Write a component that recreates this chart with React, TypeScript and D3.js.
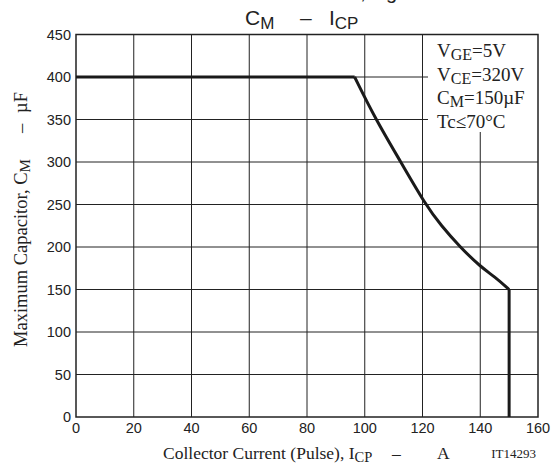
import React from 'react';
import * as d3 from 'd3';

// curve: collector current (A) vs max capacitance (uF)
const currentA = [0, 96.5, 103.8, 112.5, 121, 126.5, 133, 140, 145, 150, 150];
const capUF = [400, 400, 350, 300, 250, 225, 200, 177, 165, 150, 0];

const xTicks = [0, 20, 40, 60, 80, 100, 120, 140, 160];
const yTicks = [0, 50, 100, 150, 200, 250, 300, 350, 400, 450];

const conditions = [
    {main: 'V', sub: 'GE', rest: '=5V'},
    {main: 'V', sub: 'CE', rest: '=320V'},
    {main: 'C', sub: 'M', rest: '=150µF'},
    {main: 'Tc≤70°C', sub: '', rest: ''},
];

const sans = '"Liberation Sans", Arial, sans-serif';
const serif = '"Liberation Serif", "Times New Roman", serif';

const App = () => {
    const width = 552;
    const height = 470;
    const margin = {top: 34.5, right: 14, bottom: 53, left: 76};
    const x0 = margin.left;
    const x1 = width - margin.right;
    const y0 = height - margin.bottom;
    const y1 = margin.top;

    const xScale = d3.scaleLinear().domain([0, 160]).range([x0, x1]);
    const yScale = d3.scaleLinear().domain([0, 450]).range([y0, y1]);

    const points: [number, number][] = currentA.map((c, i) => [c, capUF[i]]);
    const last = points.length - 1;
    const flat = points.slice(0, 2);
    const curve = points.slice(1, last);
    const drop = points.slice(last - 1);

    const straight = d3.line<[number, number]>()
        .x(d => xScale(d[0]))
        .y(d => yScale(d[1]));
    const smooth = d3.line<[number, number]>()
        .x(d => xScale(d[0]))
        .y(d => yScale(d[1]))
        .curve(d3.curveBasis);

    // legend box blanks out the grid behind the conditions text
    const boxLeft = 428;
    const boxBottom = 132;

    return (
        <svg width={width} height={height} style={{display: 'block', position: 'absolute', left: 0, top: 0}}>
            <rect width={width} height={height} fill="#fff"/>

            {/* cropped header text */}
            <text x={397} y={-1} textAnchor="end" fontFamily={sans} fontSize={20} fill="#222">Tc=25°C, Rg</text>

            {/* title */}
            <g fontFamily={sans} fontSize={21} fill="#222">
                <text x={245} y={25}>C<tspan fontSize={17} dy={4}>M</tspan></text>
                <text x={300} y={25}>–</text>
                <text x={329} y={25}>I<tspan fontSize={17} dy={4}>CP</tspan></text>
            </g>

            {/* grid */}
            <g stroke="#222" strokeWidth={1}>
                {xTicks.slice(1, -1).map(t => (
                    <line key={'gx' + t} x1={xScale(t)} x2={xScale(t)} y1={y1} y2={y0}/>
                ))}
                {yTicks.slice(1, -1).map(t => (
                    <line key={'gy' + t} x1={x0} x2={x1} y1={yScale(t)} y2={yScale(t)}/>
                ))}
            </g>
            <rect x={boxLeft} y={y1} width={x1 - boxLeft} height={boxBottom - y1} fill="#fff"/>

            {/* frame */}
            <rect x={x0} y={y1} width={x1 - x0} height={y0 - y1} fill="none" stroke="#222" strokeWidth={1.5}/>

            {/* characteristic */}
            <g fill="none" stroke="#1a1a1a" strokeWidth={3}>
                <path d={straight(flat) || ''}/>
                <path d={smooth(curve) || ''}/>
                <path d={straight(drop) || ''}/>
            </g>

            {/* tick labels */}
            <g fontFamily={sans} fontSize={14.5} fill="#222">
                {yTicks.map(t => (
                    <text key={'ty' + t} x={x0 - 5} y={yScale(t) + 5} textAnchor="end">{t}</text>
                ))}
                {xTicks.map(t => (
                    <text key={'tx' + t} x={xScale(t)} y={y0 + 16} textAnchor="middle">{t}</text>
                ))}
            </g>

            {/* conditions */}
            <g fontFamily={serif} fontSize={19} fill="#222">
                {conditions.map((c, i) => (
                    <text key={'c' + i} x={437} y={57 + i * 23.5}>
                        {c.main}
                        {c.sub && <tspan fontSize={16} dy={3}>{c.sub}</tspan>}
                        {c.rest && <tspan dy={c.sub ? -3 : 0}>{c.rest}</tspan>}
                    </text>
                ))}
            </g>

            {/* axis titles */}
            <g fontFamily={serif} fontSize={17.5} fill="#222">
                <text x={163} y={459}>
                    Collector Current (Pulse), I<tspan fontSize={14.5} dy={3}>CP</tspan>
                </text>
                <text x={392} y={459}>–</text>
                <text x={437} y={459}>A</text>
            </g>
            <text x={536} y={458} textAnchor="end" fontFamily={serif} fontSize={13} fill="#222">IT14293</text>
            <g transform={`translate(27, 219) rotate(-90)`} fontFamily={serif} fontSize={18.5} fill="#222">
                <text x={-128} y={0}>
                    Maximum Capacitor, C<tspan fontSize={15} dy={3}>M</tspan>
                </text>
                <text x={86} y={0}>–</text>
                <text x={106} y={0}>µF</text>
            </g>
        </svg>
    );
};

export default App;
